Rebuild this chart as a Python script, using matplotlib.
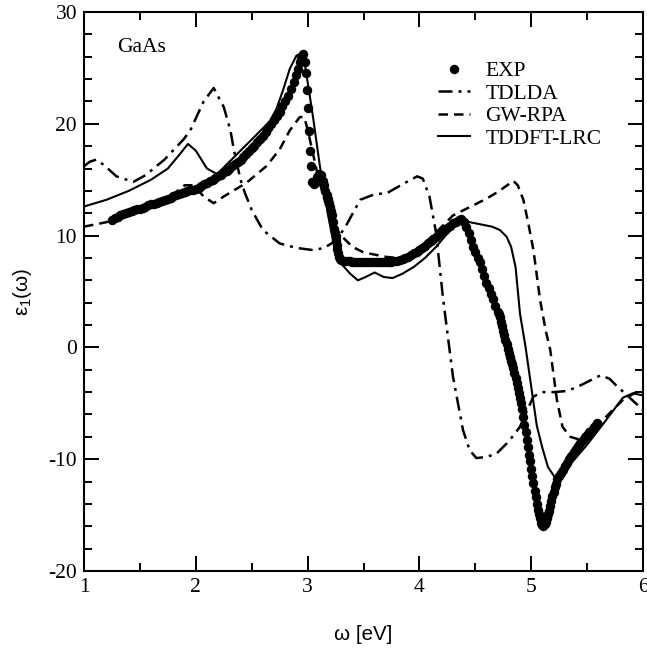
import matplotlib
matplotlib.use("Agg")
import matplotlib.pyplot as plt
from matplotlib.ticker import MultipleLocator

plt.rcParams['mathtext.fontset'] = 'custom'
plt.rcParams['mathtext.rm'] = 'Liberation Sans'
plt.rcParams['mathtext.it'] = 'Liberation Sans:italic'
plt.rcParams['axes.unicode_minus'] = False

# ---- data ----
exp_x = [1.250, 1.275, 1.300, 1.325, 1.350, 1.375, 1.400, 1.425, 1.450, 1.475, 1.500, 1.525,
         1.550, 1.575, 1.600, 1.625, 1.650, 1.675, 1.700, 1.725, 1.750, 1.775, 1.800, 1.825,
         1.850, 1.875, 1.900, 1.925, 1.950, 1.975, 2.000, 2.025, 2.050, 2.075, 2.100, 2.125,
         2.150, 2.175, 2.200, 2.225, 2.250, 2.275, 2.300, 2.325, 2.350, 2.375, 2.400, 2.425,
         2.450, 2.475, 2.500, 2.525, 2.550, 2.575, 2.600, 2.625, 2.650, 2.675, 2.700, 2.725,
         2.750, 2.775, 2.800, 2.825, 2.850, 2.875, 2.900, 2.915, 2.930, 2.945, 2.960,
         2.975, 2.985, 2.995, 3.005, 3.010, 3.020, 3.030, 3.040, 3.060, 3.080, 3.100, 3.120,
         3.140, 3.150, 3.160, 3.170, 3.180, 3.190, 3.200, 3.210, 3.220, 3.230, 3.240, 3.250,
         3.255, 3.260, 3.265, 3.270, 3.280, 3.290,
         3.300, 3.325, 3.350, 3.375, 3.400, 3.425, 3.450, 3.475, 3.500, 3.525, 3.550, 3.575,
         3.600, 3.625, 3.650, 3.675, 3.700, 3.725, 3.750, 3.775, 3.800, 3.825, 3.850, 3.875,
         3.900, 3.925, 3.950, 3.975, 4.000, 4.025, 4.050, 4.075, 4.100, 4.125, 4.150, 4.175,
         4.200, 4.225, 4.250, 4.275, 4.300, 4.325, 4.350, 4.375,
         4.40, 4.42, 4.44, 4.46, 4.48, 4.50, 4.52, 4.54, 4.56, 4.58, 4.60, 4.62, 4.64, 4.66, 4.68,
         4.70, 4.71, 4.72, 4.73, 4.74, 4.75, 4.76, 4.77, 4.78, 4.79, 4.80, 4.81, 4.82, 4.83, 4.84,
         4.85, 4.86, 4.87, 4.88, 4.89, 4.90, 4.91, 4.92, 4.93, 4.94, 4.95, 4.96, 4.97, 4.98, 4.99,
         5.00, 5.01, 5.02, 5.03, 5.04, 5.05, 5.06, 5.07, 5.08, 5.09, 5.10, 5.11, 5.12, 5.13, 5.14,
         5.15, 5.16, 5.17, 5.18, 5.19, 5.20, 5.21, 5.22, 5.235, 5.25, 5.265, 5.28, 5.30, 5.32, 5.34,
         5.36, 5.38, 5.40, 5.42, 5.44, 5.46, 5.48, 5.50, 5.52, 5.54, 5.56, 5.58, 5.59]
exp_y = [11.4, 11.55, 11.7, 11.8, 11.9, 12.0, 12.1, 12.2, 12.25, 12.35, 12.4, 12.5,
         12.6, 12.7, 12.8, 12.85, 12.95, 13.05, 13.1, 13.2, 13.3, 13.4, 13.5, 13.6,
         13.7, 13.8, 13.9, 14.0, 14.05, 14.1, 14.2, 14.3, 14.45, 14.6, 14.7, 14.85,
         15.0, 15.15, 15.3, 15.45, 15.65, 15.8, 16.0, 16.2, 16.4, 16.6, 16.8, 17.05,
         17.3, 17.55, 17.8, 18.05, 18.35, 18.6, 18.9, 19.25, 19.6, 19.95, 20.3, 20.7,
         21.1, 21.55, 22.0, 22.5, 23.1, 23.7, 24.4, 24.9, 25.5, 25.9, 26.2,
         25.5, 24.5, 23.0, 21.4, 19.4, 17.6, 16.2, 14.8, 14.6, 15.2, 15.5, 15.4,
         14.9, 14.5, 14.0, 13.6, 13.3, 12.9, 12.6, 12.2, 11.8, 11.2, 10.6, 10.0,
         9.6, 9.2, 8.8, 8.4, 8.1, 7.9,
         7.8, 7.75, 7.7, 7.7, 7.65, 7.6, 7.6, 7.6, 7.6, 7.6, 7.6, 7.6,
         7.6, 7.6, 7.6, 7.6, 7.6, 7.65, 7.65, 7.7, 7.75, 7.8, 7.9, 8.0,
         8.1, 8.25, 8.4, 8.55, 8.7, 8.9, 9.1, 9.3, 9.5, 9.7, 9.9, 10.1,
         10.3, 10.5, 10.7, 10.9, 11.1, 11.25, 11.4, 11.5,
         11.2, 10.8, 10.2, 9.6, 9.0, 8.5, 8.0, 7.6, 7.0, 6.4, 5.8, 5.3, 4.8, 4.3, 3.7,
         3.2, 2.95, 2.7, 2.3, 1.9, 1.5, 1.1, 0.7, 0.3, -0.1, -0.5, -0.85, -1.2, -1.5, -1.8,
         -2.25, -2.7, -3.15, -3.6, -4.05, -4.5, -5.0, -5.5, -6.2, -6.9, -7.6, -8.3, -8.9, -9.6, -10.2,
         -10.9, -11.5, -12.1, -12.8, -13.4, -14.0, -14.5, -14.9, -15.3, -15.7, -15.9, -15.95, -15.8, -15.6, -15.3,
         -14.9, -14.6, -14.2, -13.7, -13.3, -12.9, -12.5, -12.2, -11.8, -11.5, -11.2, -10.95, -10.6, -10.3, -10.0,
         -9.7, -9.4, -9.1, -8.8, -8.55, -8.3, -8.05, -7.8, -7.6, -7.35, -7.1, -6.9, -6.8]

tdlda_x = [1.00, 1.05, 1.11, 1.18, 1.29, 1.44, 1.55, 1.72, 1.89, 1.95, 2.07, 2.16, 2.25, 2.31, 2.34,
           2.40, 2.44, 2.50, 2.60, 2.75, 2.90, 3.05, 3.15, 3.26, 3.35, 3.47, 3.60, 3.71, 3.85, 3.98,
           4.03, 4.09, 4.15, 4.21, 4.30, 4.39, 4.45, 4.51, 4.60, 4.69, 4.80, 4.90, 4.97, 5.02, 5.10,
           5.20, 5.32, 5.42, 5.50, 5.62, 5.70, 5.76, 5.87, 6.00]
tdlda_y = [16.2, 16.6, 16.8, 16.3, 15.3, 14.8, 15.4, 16.8, 18.6, 19.4, 22.0, 23.2, 21.5, 19.4, 17.7,
           15.0, 13.8, 12.3, 10.5, 9.3, 8.9, 8.7, 8.9, 9.6, 11.0, 13.2, 13.7, 13.8, 14.6, 15.3,
           15.1, 13.5, 10.2, 4.5, -2.6, -7.4, -9.2, -9.9, -9.8, -9.5, -8.4, -7.1, -5.5, -4.4, -4.0,
           -4.0, -3.9, -3.5, -3.1, -2.5, -2.8, -3.4, -4.4, -5.6]

gwrpa_x = [1.00, 1.20, 1.40, 1.60, 1.80, 1.90, 1.98, 2.07, 2.16, 2.25, 2.45, 2.63, 2.75, 2.84,
           2.93, 2.97, 3.00, 3.10, 3.20, 3.30, 3.40, 3.50, 3.60, 3.70, 3.80, 3.90, 4.00, 4.10, 4.20,
           4.30, 4.40, 4.50, 4.60, 4.70, 4.80, 4.84, 4.88, 4.93, 4.98, 5.02, 5.08, 5.13, 5.17, 5.23,
           5.28, 5.35, 5.45, 5.55, 5.67, 5.82, 5.94, 6.00]
gwrpa_y = [10.8, 11.2, 11.8, 12.6, 13.7, 14.5, 14.5, 13.5, 12.9, 13.5, 14.7, 16.2, 17.7, 19.4,
           20.6, 20.6, 19.5, 15.0, 11.5, 10.0, 9.0, 8.5, 8.3, 8.1, 8.0, 8.2, 8.9, 9.8, 10.8,
           11.8, 12.3, 12.8, 13.3, 13.9, 14.6, 14.9, 14.5, 13.2, 10.8, 8.7, 4.2, 1.5, -0.2, -4.7,
           -7.1, -8.0, -8.3, -7.8, -6.2, -4.7, -4.0, -3.8]

lrc_x = [1.00, 1.20, 1.40, 1.60, 1.75, 1.85, 1.93, 2.00, 2.10, 2.19, 2.30, 2.40, 2.50, 2.60, 2.66,
         2.72, 2.78, 2.84, 2.90, 2.94, 2.97, 3.05, 3.11, 3.18, 3.25, 3.30, 3.38, 3.45, 3.52, 3.60,
         3.68, 3.76, 3.85, 3.95, 4.05, 4.15, 4.25, 4.36, 4.45, 4.55, 4.65, 4.72, 4.78, 4.82, 4.86,
         4.90, 4.95, 5.00, 5.05, 5.10, 5.15, 5.21, 5.30, 5.38, 5.50, 5.67, 5.82, 5.91, 6.00]
lrc_y = [12.6, 13.2, 14.0, 15.0, 16.0, 17.2, 18.2, 17.6, 16.0, 15.5, 16.6, 17.6, 18.6, 19.6, 20.2,
         21.3, 23.0, 24.9, 26.1, 26.3, 25.7, 20.5, 16.2, 12.0, 8.4, 7.5, 6.6, 6.0, 6.3, 6.7,
         6.3, 6.2, 6.6, 7.2, 8.0, 9.0, 10.2, 11.5, 11.2, 11.0, 10.8, 10.5, 9.9, 9.0, 7.2,
         3.0, 0.0, -3.5, -7.0, -9.0, -10.7, -11.6, -11.0, -10.1, -8.7, -6.5, -4.5, -4.1, -4.3]

series_labels = ["EXP", "TDLDA", "GW-RPA", "TDDFT-LRC"]
x_ticks = [1, 2, 3, 4, 5, 6]
y_ticks = [-20, -10, 0, 10, 20, 30]

# ---- figure ----
fig = plt.figure(figsize=(6.47, 6.52), dpi=100)
ax = fig.add_axes([84/647, 1 - 571/652, (643-84)/647, (571-12)/652])

serif = 'Liberation Serif'
sans = 'Liberation Sans'

ax.plot(exp_x, exp_y, linestyle='none', marker='o', markersize=6.8, color='black',
        markeredgewidth=0, label=series_labels[0])
ax.plot(tdlda_x, tdlda_y, color='black', lw=1.8, dashes=(5.6, 2.4, 1.2, 2.4),
        label=series_labels[1])
ax.plot(gwrpa_x, gwrpa_y, color='black', lw=1.8, dashes=(3.8, 2.4), label=series_labels[2])
ax.plot(lrc_x, lrc_y, color='black', lw=1.5, label=series_labels[3])

ax.set_xlim(1, 6)
ax.set_ylim(-20, 30)
ax.set_xticks(x_ticks)
ax.set_yticks(y_ticks)
ax.xaxis.set_minor_locator(MultipleLocator(0.5))
ax.yaxis.set_minor_locator(MultipleLocator(2))
ax.tick_params(which='both', direction='in', top=True, right=True, width=1.4, color='black')
ax.tick_params(which='major', length=11)
ax.tick_params(which='minor', length=5.5)
ax.tick_params(axis='x', which='major', pad=5)
ax.tick_params(axis='y', which='major', pad=5)
for lab in ax.get_xticklabels() + ax.get_yticklabels():
    lab.set_fontfamily(serif)
    lab.set_fontsize(15.5)
for sp in ax.spines.values():
    sp.set_linewidth(1.5)

ax.set_xlabel('ω [eV]', fontfamily=sans, fontsize=14.8, labelpad=20)
ax.set_ylabel('ε$_1$(ω)', fontfamily=sans, fontsize=14.8, labelpad=10)

ax.text(1.3, 26.8, 'GaAs', fontfamily=serif, fontsize=15.5, va='center', ha='left')

leg = ax.legend(loc='upper left', bbox_to_anchor=(438/647, 1 - 61/652), bbox_transform=fig.transFigure,
                frameon=False, numpoints=1, handlelength=1.5, handletextpad=0.7,
                labelspacing=0.12, borderpad=0, borderaxespad=0,
                prop={'family': serif, 'size': 15.5})

fig.savefig('out.png', dpi=100)
